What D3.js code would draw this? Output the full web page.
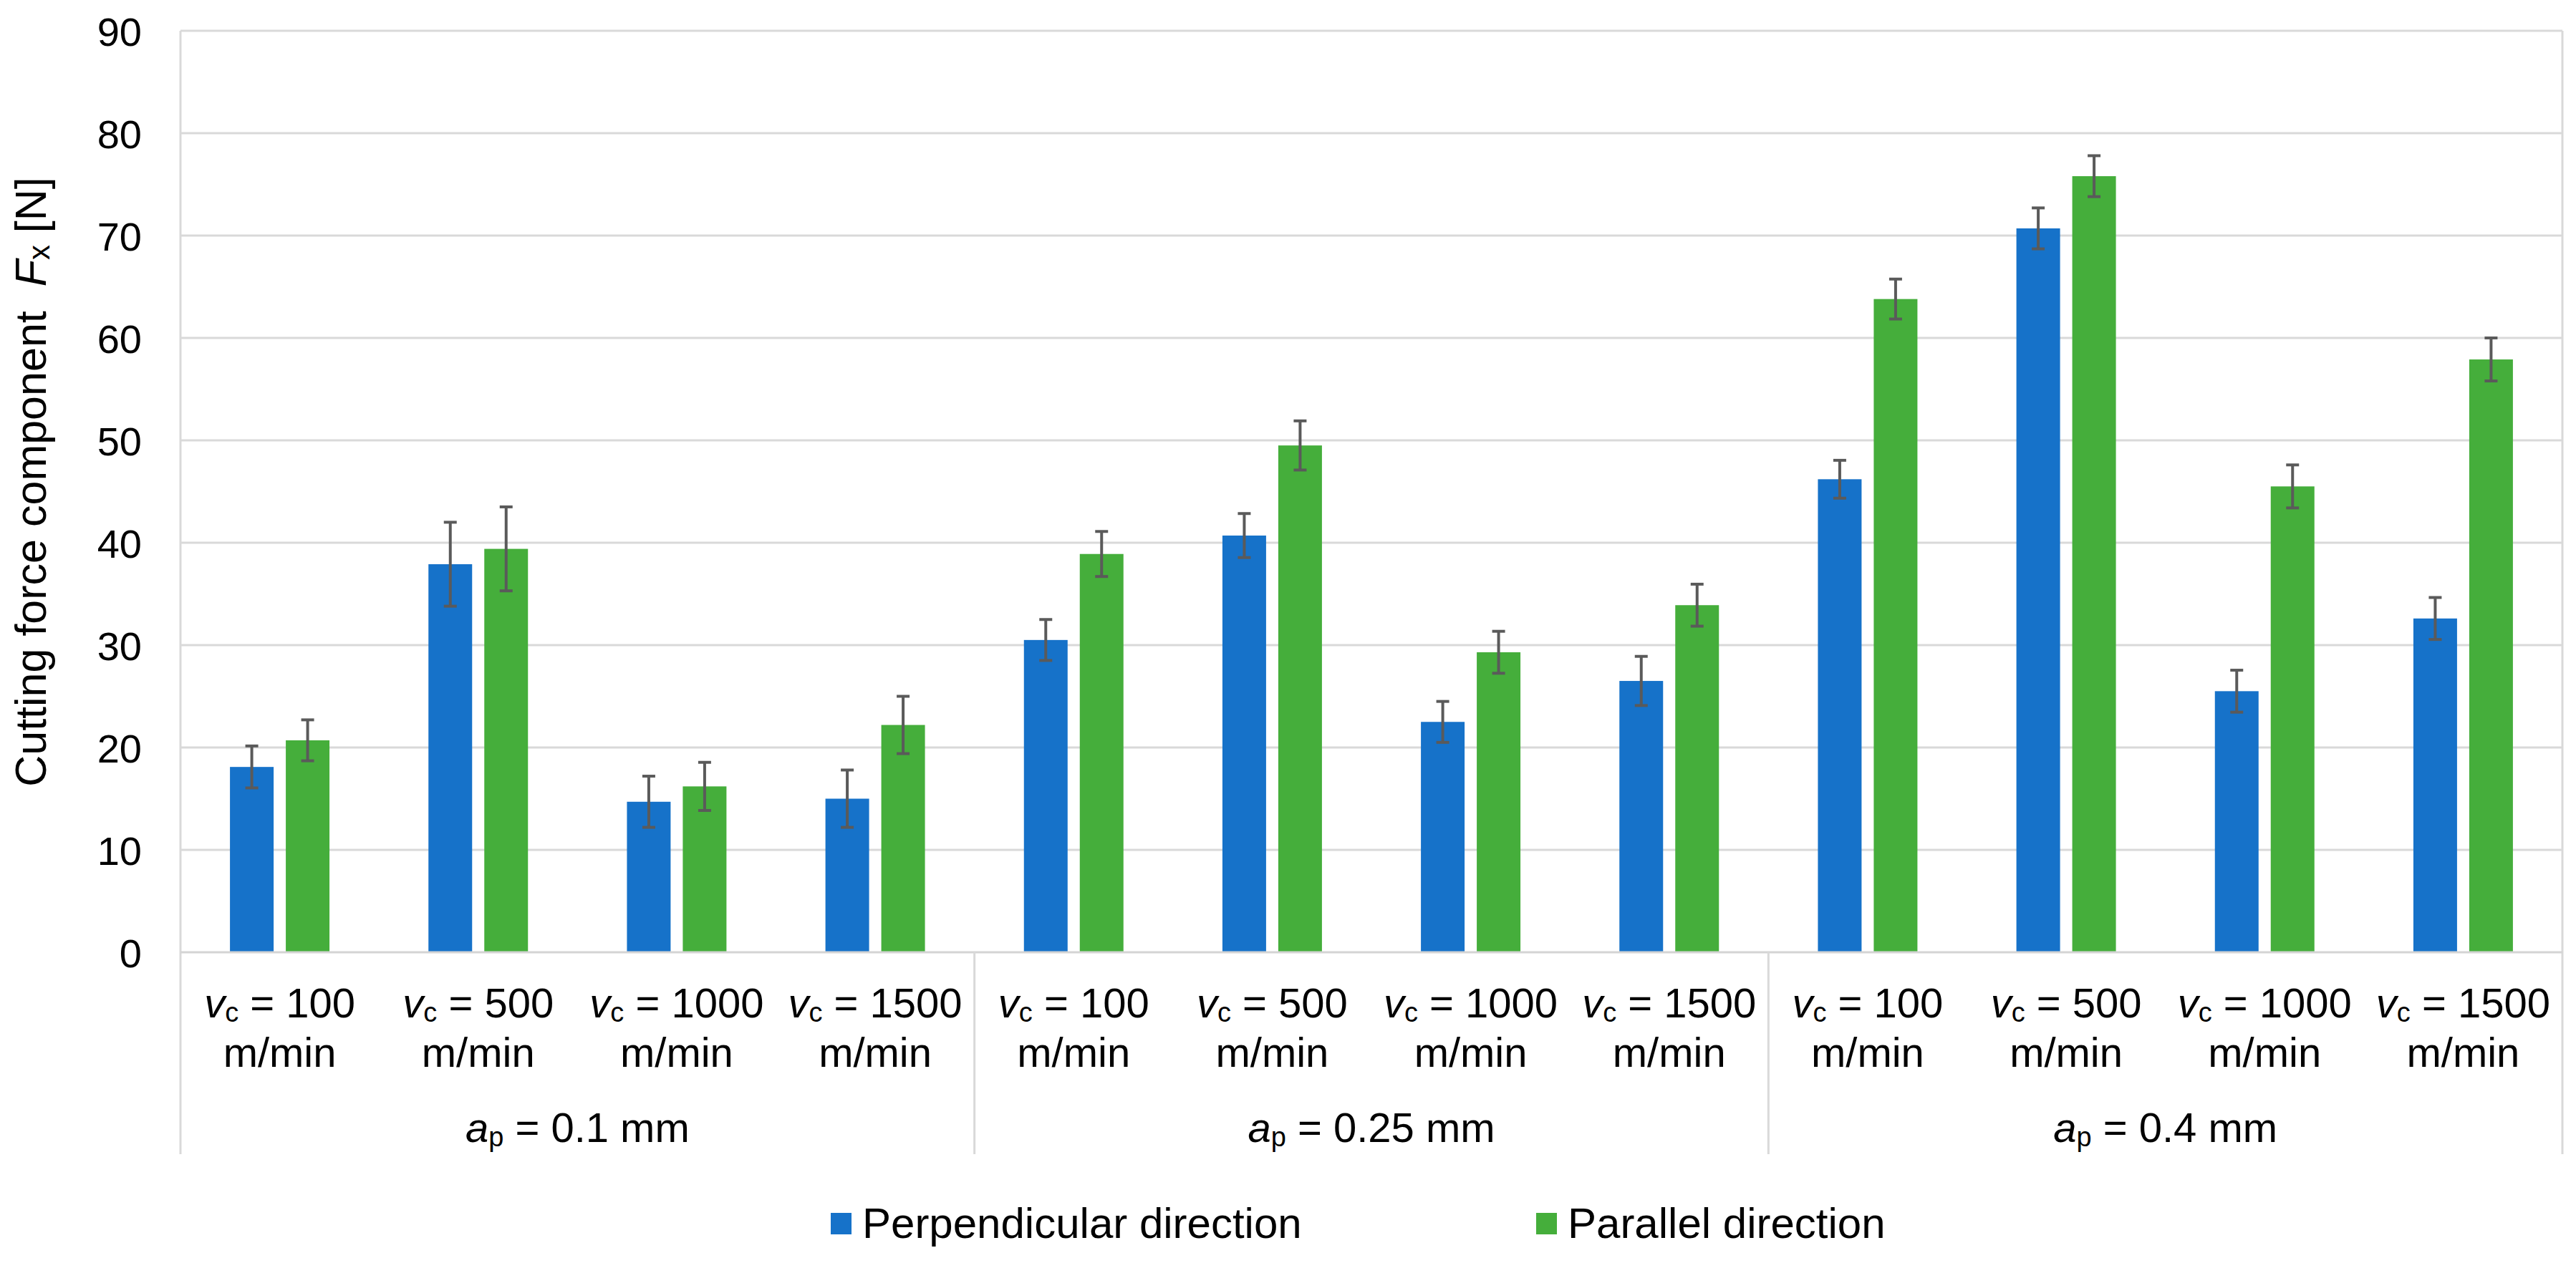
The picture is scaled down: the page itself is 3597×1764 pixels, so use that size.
<!DOCTYPE html>
<html>
<head>
<meta charset="utf-8">
<script src="https://cdn.jsdelivr.net/npm/d3@7"></script>
<style>
  html, body { margin: 0; padding: 0; background: #ffffff; }
  svg { display: block; }
</style>
</head>
<body>
<svg id="chart" width="3597" height="1764"></svg>
<script>
// ---------------- DATA ----------------
const speeds = ["100", "500", "1000", "1500", "100", "500", "1000", "1500", "100", "500", "1000", "1500"];
const depths = ["0.1", "0.25", "0.4"];
const seriesNames = ["Perpendicular direction", "Parallel direction"];
const perpendicular = [18.1, 37.9, 14.7, 15.0, 30.5, 40.7, 22.5, 26.5, 46.2, 70.7, 25.5, 32.6];
const parallel      = [20.7, 39.4, 16.2, 22.2, 38.9, 49.5, 29.3, 33.9, 63.8, 75.8, 45.5, 57.9];
const perpendicularErr = [2.05, 4.1, 2.5, 2.8, 2.0, 2.15, 2.0, 2.4, 1.85, 2.0, 2.05, 2.05];
const parallelErr      = [2.0, 4.1, 2.35, 2.8, 2.2, 2.4, 2.05, 2.05, 1.95, 2.0, 2.1, 2.1];
const yTicks = [0, 10, 20, 30, 40, 50, 60, 70, 80, 90];

// ---------------- LAYOUT ----------------
const W = 3597, H = 1764;
const plot = { left: 252, right: 3578, top: 43, bottom: 1330 };
const axisBottom = 1612;
const colors = ["#1672c9", "#45ae3b"];
const FONT = "'Liberation Sans', Arial, sans-serif";

const svg = d3.select("#chart");
svg.append("rect").attr("width", W).attr("height", H).attr("fill", "#ffffff");

const y = d3.scaleLinear().domain([0, 90]).range([plot.bottom, plot.top]);
const idx = d3.range(speeds.length);
const x0 = d3.scaleBand().domain(idx).range([plot.left, plot.right]).paddingInner(0).paddingOuter(0);
const x1 = d3.scaleBand().domain([0, 1]).range([0, x0.bandwidth()]).paddingInner(0.218).paddingOuter(0.886);

// gridlines
const grid = svg.append("g");
grid.selectAll("line").data(yTicks.filter(d => d > 0)).join("line")
  .attr("x1", plot.left).attr("x2", plot.right)
  .attr("y1", d => y(d)).attr("y2", d => y(d))
  .attr("stroke", "#d9d9d9").attr("stroke-width", 3);

// plot border (left/right)
svg.append("line").attr("x1", plot.left).attr("x2", plot.left)
  .attr("y1", y(90)).attr("y2", axisBottom).attr("stroke", "#d9d9d9").attr("stroke-width", 3);
svg.append("line").attr("x1", plot.right).attr("x2", plot.right)
  .attr("y1", y(90)).attr("y2", axisBottom).attr("stroke", "#d9d9d9").attr("stroke-width", 3);

// y axis labels
const yAxis = d3.axisLeft(y).tickValues(yTicks).tickSize(0).tickPadding(0).tickFormat(d3.format("d"));
const yg = svg.append("g").attr("transform", `translate(${plot.left - 54},0)`).call(yAxis);
yg.select(".domain").remove();
yg.selectAll("text").attr("font-family", FONT).attr("font-size", 56).attr("fill", "#000").attr("dy", "0.36em");

// bars
const seriesData = [perpendicular, parallel];
const errData = [perpendicularErr, parallelErr];
const barsG = svg.append("g");
seriesData.forEach((vals, s) => {
  barsG.append("g").selectAll("rect").data(vals).join("rect")
    .attr("x", (d, i) => x0(i) + x1(s))
    .attr("width", x1.bandwidth())
    .attr("y", d => y(d))
    .attr("height", d => y(0) - y(d))
    .attr("fill", colors[s]);
});

// category axis line
svg.append("line").attr("x1", plot.left).attr("x2", plot.right)
  .attr("y1", y(0)).attr("y2", y(0)).attr("stroke", "#d4d4d4").attr("stroke-width", 3);

// group separators
[4, 8].forEach(k => {
  const gx = x0(k);
  svg.append("line").attr("x1", gx).attr("x2", gx).attr("y1", y(0)).attr("y2", axisBottom)
    .attr("stroke", "#d9d9d9").attr("stroke-width", 3);
});

// error bars
const errG = svg.append("g").attr("stroke", "#5a5a5a").attr("stroke-width", 4);
seriesData.forEach((vals, s) => {
  vals.forEach((v, i) => {
    const cx = x0(i) + x1(s) + x1.bandwidth() / 2;
    const e = errData[s][i];
    errG.append("line").attr("x1", cx).attr("x2", cx).attr("y1", y(v + e)).attr("y2", y(v - e));
    errG.append("line").attr("x1", cx - 9).attr("x2", cx + 9).attr("y1", y(v + e)).attr("y2", y(v + e));
    errG.append("line").attr("x1", cx - 9).attr("x2", cx + 9).attr("y1", y(v - e)).attr("y2", y(v - e));
  });
});

// category labels
const catG = svg.append("g").attr("font-family", FONT).attr("font-size", 58).attr("fill", "#000");
idx.forEach(i => {
  const cx = x0(i) + x0.bandwidth() / 2;
  const t = catG.append("text").attr("x", cx).attr("y", 1421).attr("text-anchor", "middle");
  t.append("tspan").attr("font-style", "italic").text("v");
  t.append("tspan").attr("font-size", 38).attr("dy", 6).text("c");
  t.append("tspan").attr("dy", -6).text(" = " + speeds[i]);
  catG.append("text").attr("x", cx).attr("y", 1490).attr("text-anchor", "middle").text("m/min");
});
depths.forEach((d, g) => {
  const cx = (x0(g * 4) + x0(g * 4 + 3) + x0.bandwidth()) / 2;
  const t = catG.append("text").attr("x", cx).attr("y", 1595).attr("text-anchor", "middle");
  t.append("tspan").attr("font-style", "italic").text("a");
  t.append("tspan").attr("font-size", 38).attr("dy", 6).text("p");
  t.append("tspan").attr("dy", -6).text(" = " + d + " mm");
});

// y axis title
const title = svg.append("text")
  .attr("transform", "translate(64,673) rotate(-90)")
  .attr("text-anchor", "middle")
  .attr("font-family", FONT).attr("font-size", 61).attr("fill", "#000");
title.append("tspan").text("Cutting force component\u00a0\u00a0");
title.append("tspan").attr("font-style", "italic").text("F");
title.append("tspan").attr("font-size", 42).attr("dy", 5).text("x");
title.append("tspan").attr("dy", -5).text(" [N]");

// legend
const legendX = [1160, 2145];
const legG = svg.append("g").attr("font-family", FONT).attr("font-size", 60).attr("fill", "#000");
seriesNames.forEach((name, s) => {
  legG.append("rect").attr("x", legendX[s]).attr("y", 1694).attr("width", 29).attr("height", 30).attr("fill", colors[s]);
  legG.append("text").attr("x", legendX[s] + 44).attr("y", 1729).text(name);
});
</script>
</body>
</html>
